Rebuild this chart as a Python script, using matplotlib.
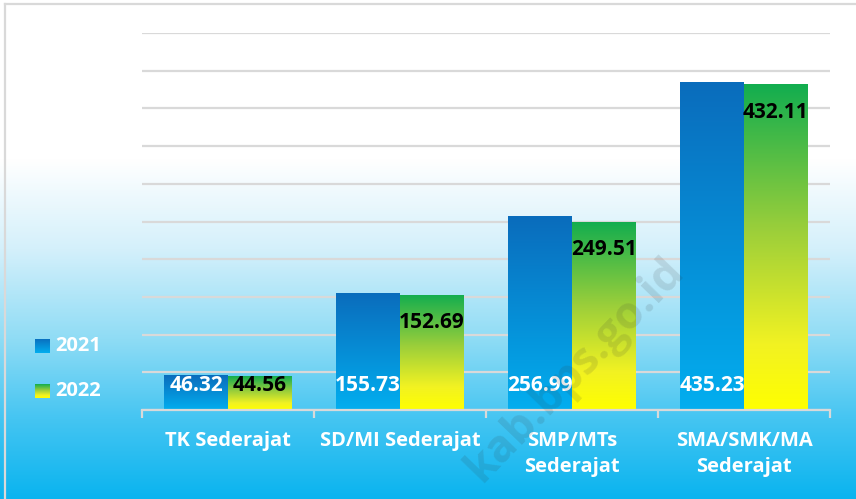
import numpy as np
import matplotlib
matplotlib.use('Agg')
import matplotlib.pyplot as plt
from matplotlib.colors import LinearSegmentedColormap
from matplotlib.lines import Line2D

# data
categories = ['TK Sederajat', 'SD/MI Sederajat', 'SMP/MTs\nSederajat', 'SMA/SMK/MA\nSederajat']
years = ['2021', '2022']
val_2021 = [46.32, 155.73, 256.99, 435.23]
val_2022 = [44.56, 152.69, 249.51, 432.11]

plt.rcParams['font.family'] = ['Open Sans', 'DejaVu Sans']
plt.rcParams['font.weight'] = 'bold'

W, H = 856, 499
fig = plt.figure(figsize=(W / 100, H / 100), dpi=100)

# background gradient (white top -> sky blue bottom)
bg_cmap = LinearSegmentedColormap.from_list('bg', [
    (0.0, '#ffffff'), (0.32, '#ffffff'), (0.50, '#d4f0fb'),
    (0.68, '#8fdcf5'), (0.84, '#45c5f2'), (1.0, '#0ab4ef')])
bg = fig.add_axes([0, 0, 1, 1], zorder=-10)
bg.imshow(np.linspace(0, 1, 256).reshape(-1, 1), cmap=bg_cmap, aspect='auto',
          extent=[0, 1, 0, 1])
bg.set_xlim(0, 1)
bg.set_ylim(0, 1)
bg.axis('off')
# chart border (left / top)
bg.add_line(Line2D([5 / W, 5 / W], [0, 1 - 4 / H], color='#d9d9d9', lw=1.6))
bg.add_line(Line2D([5 / W, 1], [1 - 4 / H, 1 - 4 / H], color='#d9d9d9', lw=1.6))

cmap_2021 = LinearSegmentedColormap.from_list('c21', ['#0a6cbc', '#02aeef'])
cmap_2022 = LinearSegmentedColormap.from_list('c22', [
    (0.0, '#12ad4f'), (0.45, '#9ccf3a'), (0.8, '#f2f222'), (1.0, '#ffff00')])

ax = fig.add_axes([142 / W, 1 - 410 / H, 688 / W, 377 / H])
ax.patch.set_alpha(0)

x = np.arange(len(categories))
bw = 0.372
bars1 = ax.bar(x - bw / 2, val_2021, bw, color='none', zorder=3)
bars2 = ax.bar(x + bw / 2, val_2022, bw, color='none', zorder=3)

grad = np.linspace(0, 1, 256).reshape(-1, 1)
for bars, cm in [(bars1, cmap_2021), (bars2, cmap_2022)]:
    for b in bars:
        x0, y0, w, h = b.get_x(), b.get_y(), b.get_width(), b.get_height()
        im = ax.imshow(grad, cmap=cm, aspect='auto', extent=[x0, x0 + w, y0, y0 + h],
                       zorder=3, origin='upper')
        im.set_clip_path(b)

ax.set_xlim(-0.5, len(categories) - 0.5)
ax.set_ylim(0, 500)

# gridlines
ax.set_yticks(np.arange(0, 501, 50))
ax.yaxis.grid(True, color='#d9d9d9', lw=1.6, zorder=1)
ax.tick_params(axis='y', length=0, labelleft=False)
ax.set_axisbelow(True)

for s in ['top', 'right', 'left']:
    ax.spines[s].set_visible(False)
ax.spines['bottom'].set_color('#d9d9d9')
ax.spines['bottom'].set_linewidth(1.6)
ax.spines['bottom'].set_zorder(4)

ax.set_xticks(x)
ax.set_xticklabels(categories, color='white', fontsize=14.5, fontweight='bold',
                   va='top', linespacing=1.4)
ax.tick_params(axis='x', length=0, pad=15)
ax.set_xticks(np.arange(-0.5, len(categories), 1), minor=True)
ax.tick_params(axis='x', which='minor', length=6, width=1.6, color='#d9d9d9', direction='out')

# data labels
for i in range(len(categories)):
    ax.text(x[i] - bw / 2, 33, f'{val_2021[i]:.2f}', ha='center', va='center',
            color='white', fontsize=15, fontweight='bold', zorder=5)
    ax.text(x[i] + bw / 2, max(val_2022[i] - 37, 33), f'{val_2022[i]:.2f}', ha='center',
            va='center', color='black', fontsize=15, fontweight='bold', zorder=5)

# legend
for j, (yr, cm) in enumerate([(years[0], cmap_2021), (years[1], cmap_2022)]):
    ytop = 339 + j * 45
    la = fig.add_axes([35 / W, 1 - (ytop + 14) / H, 15 / W, 14 / H])
    la.imshow(grad, cmap=cm, aspect='auto')
    la.axis('off')
    fig.text(55 / W, 1 - (ytop + 7) / H, yr, color='white', fontsize=14.5,
             fontweight='bold', va='center', ha='left')

# watermark
fig.text(575 / W, 1 - 370 / H, 'kab.bps.go.id', rotation=46, fontsize=32,
         fontweight='bold', color='#333333', alpha=0.13, ha='center', va='center',
         zorder=20)

plt.savefig('out.png', dpi=100)
